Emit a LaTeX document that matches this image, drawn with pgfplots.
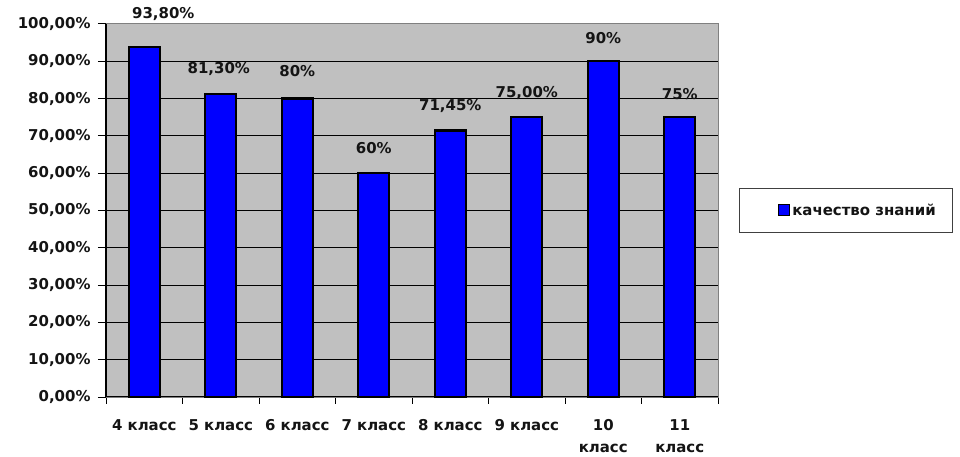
\documentclass[border=0pt]{standalone}
\usepackage{fontspec}
\setmainfont{DejaVu Sans}
\usepackage{pgfplots}
\pgfplotsset{compat=1.18}
\usepackage{pgfplotstable}
\definecolor{plotbg}{RGB}{192,192,192}
\definecolor{borderg}{RGB}{128,128,128}
\definecolor{txt}{RGB}{20,20,20}
\pgfplotstableread{
x y lab dx dy
0 93.80 {93,80\%} 19 22
1 81.30 {81,30\%} -2 13.5
2 80.00 {80\%} 0 17
3 60.00 {60\%} 0 15
4 71.45 {71,45\%} 0 13.5
5 75.00 {75,00\%} 0 13.5
6 90.00 {90\%} 0 13.5
7 75.00 {75\%} 0 13.5
}\datatable
\begin{document}
\begin{tikzpicture}
\useasboundingbox (0,0) rectangle (960bp,457bp);
\begin{axis}[
  at={(106bp,60bp)}, anchor=south west,
  scale only axis, width=612bp, height=373bp,
  xmin=-0.5, xmax=7.5, ymin=0, ymax=100,
  clip=false,
  axis background/.style={fill=plotbg},
  axis line style={draw=borderg, line width=1pt},
  xtick pos=bottom, ytick pos=left,
  xtick={0,...,7},
  xticklabels={4 класс,5 класс,6 класс,7 класс,8 класс,9 класс,10\\класс,11\\класс},
  xticklabel style={align=center, font=\fontsize{15}{22}\selectfont\bfseries, text=txt, yshift=-11bp},
  major x tick style={draw=none},
  minor xtick={-0.5,0.5,...,7.5},
  minor x tick style={draw=black, line width=1pt},
  minor tick length=7bp,
  major tick length=8bp,
  tick align=outside,
  ytick={0,10,...,90},
  extra y ticks={100},
  extra y tick style={grid=none},
  /pgf/number format/assume math mode=true,
  yticklabel={\pgfmathprintnumber[fixed,fixed zerofill,precision=2,use comma]{\tick}\%},
  yticklabel style={font=\fontsize{15}{18}\selectfont\bfseries, text=txt, xshift=-4bp},
  y tick style={draw=black, line width=1pt},
  ymajorgrids,
  major grid style={draw=black, line width=1.1pt},
  extra x ticks={-0.5},
  extra x tick labels={},
  extra x tick style={grid=major, major tick length=0pt},
  legend style={at={(1,0.5)}, anchor=west, xshift=21bp, draw=black!75, line width=1pt,
    inner xsep=15bp, inner ysep=14bp, font=\fontsize{15}{18}\selectfont\bfseries, text=txt},
  legend image code/.code={\path (-23bp,0bp); \draw[fill=blue,draw=black,line width=1.2pt] (0bp,-5bp) rectangle (11bp,6bp);},
]
\addplot[ybar, bar width=31bp, fill=blue, draw=black, line width=2.4pt,
  point meta=explicit symbolic,
  nodes near coords,
  visualization depends on={\thisrow{dx} \as \dx},
  visualization depends on={\thisrow{dy} \as \dy},
  nodes near coords style={anchor=south, xshift=\dx bp, yshift=\dy bp, font=\fontsize{15}{18}\selectfont\bfseries, text=txt},
] table[x=x, y=y, meta=lab] {\datatable};
\addlegendentry{качество знаний}
\end{axis}
\end{tikzpicture}
\end{document}
